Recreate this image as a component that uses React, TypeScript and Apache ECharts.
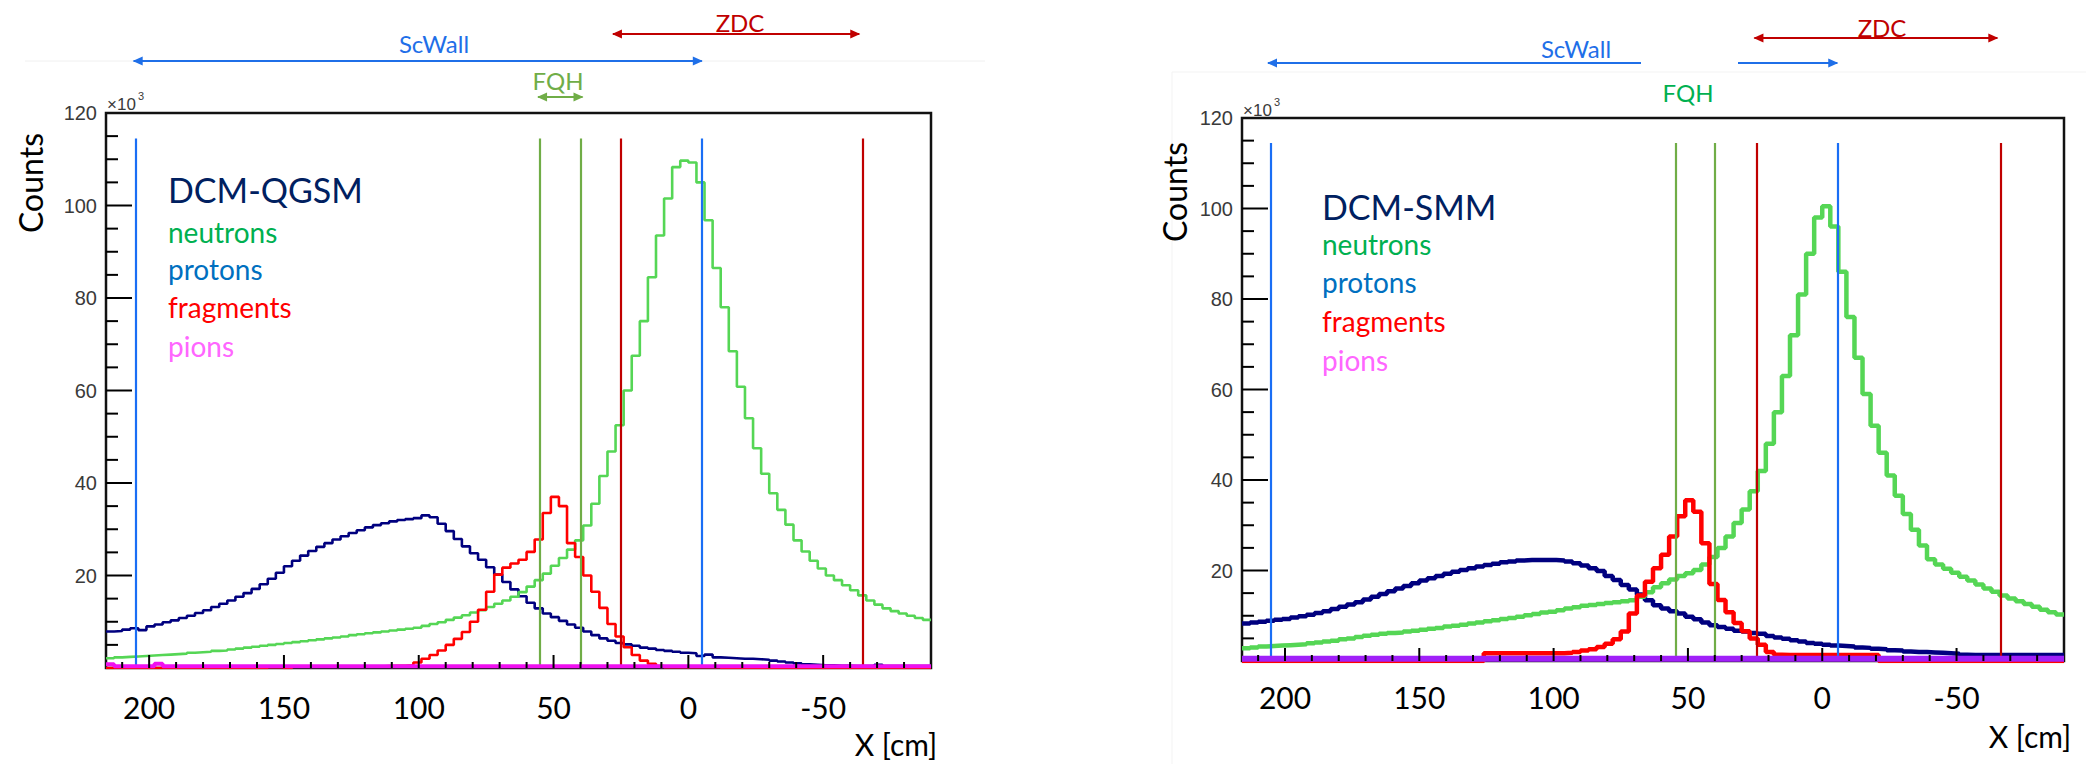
import React, { useEffect, useRef } from "react";
import * as echarts from "echarts";

// ---------- axis ----------
const X_MIN = -90;
const X_MAX = 216;
const Y_MAX = 120;
const BIN = 3; // bin width (cm); bins listed from X_MAX downwards
const majorTicks = [200, 150, 100, 50, 0, -50];
const minorTicks = [210, 190, 180, 170, 160, 140, 130, 120, 110, 90, 80, 70, 60, 40, 30, 20, 10, -10, -20, -30, -40, -60, -70, -80];
const yMajorTicks = [20, 40, 60, 80, 100];
const yMinorTicks = [5, 10, 15, 25, 30, 35, 45, 50, 55, 65, 70, 75, 85, 90, 95, 105, 110, 115];
const yTickLabels = [20, 40, 60, 80, 100, 120];

// ---------- DCM-QGSM (left) values, x10^3, bins from X=216 down to X=-90 ----------
const qgsmNeutrons = [
  2.1, 2.3, 2.4, 2.5, 2.6, 2.7, 2.8, 2.9, 3.0, 3.1,
  3.3, 3.4, 3.5, 3.7, 3.8, 4.0, 4.2, 4.4, 4.6, 4.8,
  5.0, 5.2, 5.4, 5.6, 5.8, 6.0, 6.2, 6.4, 6.6, 6.8,
  7.1, 7.3, 7.5, 7.7, 7.9, 8.1, 8.3, 8.5, 8.7, 9.1,
  9.5, 9.9, 10.4, 10.9, 11.4, 12.0, 12.5, 13.2, 13.9, 14.6,
  15.4, 16.4, 17.6, 19.0, 20.4, 22.1, 23.8, 25.6, 27.6, 30.8,
  35.5, 41.5, 46.8, 52.5, 60.0, 67.5, 75.0, 84.5, 93.5, 101.5,
  108.3, 109.7, 109.3, 105.0, 96.8, 86.5, 78.0, 68.5, 60.8, 54.0,
  47.5, 42.0, 37.8, 34.2, 31.0, 27.6, 25.2, 23.2, 21.5, 20.0,
  19.0, 17.9, 16.8, 15.7, 14.6, 13.7, 12.9, 12.3, 11.8, 11.3, 10.8, 10.4,
];
const qgsmProtons = [
  7.9, 8.0, 8.3, 8.6, 8.2, 9.0, 9.4, 9.9, 10.3, 10.8,
  11.3, 11.9, 12.5, 13.2, 13.9, 14.6, 15.4, 16.2, 17.1, 18.1,
  19.3, 20.6, 22.0, 23.2, 24.3, 25.3, 26.2, 27.0, 27.8, 28.5,
  29.2, 29.8, 30.4, 30.9, 31.3, 31.7, 32.0, 32.2, 32.4, 33.0,
  32.6, 31.2, 29.6, 27.9, 26.3, 24.8, 23.4, 21.8, 20.2, 18.6,
  17.0, 15.5, 14.1, 12.9, 11.8, 11.0, 10.2, 9.4, 8.7, 7.9,
  7.1, 6.4, 5.9, 5.4, 5.1, 4.8, 4.4, 4.2, 3.9, 3.7,
  3.5, 3.3, 3.2, 2.6, 2.9, 2.3, 2.2, 2.1, 2.0, 2.0,
  1.9, 1.8, 1.6, 1.4, 1.2, 1.0, 0.8, 0.7, 0.6, 0.6,
  0.5, 0.5, 0.4, 0.4, 0.4, 0.7, 0.4, 0.4, 0.4, 0.4, 0.4, 0.4,
];
const qgsmFragments = [
  0, 0, 0, 0, 0, 0, 0, 0, 0, 0,
  0, 0, 0, 0, 0, 0, 0, 0, 0, 0,
  0.2, 0.2, 0, 0.3, 0.3, 0.3, 0.3, 0.3, 0.3, 0.3,
  0.3, 0.3, 0.3, 0.3, 0.4, 0.5, 0.5, 0.6, 1.2, 2.0,
  2.8, 3.8, 5.0, 6.3, 7.8, 10.0, 12.6, 16.5, 20.2, 21.7,
  22.6, 23.4, 25.1, 27.8, 33.5, 37.0, 35.0, 27.0, 24.0, 20.0,
  16.5, 13.0, 9.5, 6.8, 4.5, 2.8, 1.6, 0.9, 0.4, 0.2,
  0.2, 0.2, 0.2, 0.2, 0.2, 0.2, 0, 0, 0, 0,
  0, 0, 0, 0, 0, 0, 0, 0, 0, 0,
  0, 0, 0, 0, 0, 0, 0, 0, 0, 0, 0, 0,
];
const qgsmPions = [
  0.8, 0.4, 0.4, 0.4, 0.4, 0.4, 0.9, 0.4, 0.4, 0.4,
  0.4, 0.4, 0.4, 0.4, 0.4, 0.4, 0.4, 0.4, 0.4, 0.4,
  0.4, 0.4, 0.4, 0.4, 0.4, 0.4, 0.4, 0.4, 0.4, 0.4,
  0.4, 0.4, 0.4, 0.4, 0.4, 0.4, 0.4, 0.4, 0.4, 0.4,
  0.4, 0.4, 0.4, 0.4, 0.4, 0.4, 0.4, 0.4, 0.4, 0.4,
  0.4, 0.4, 0.4, 0.4, 0.4, 0.4, 0.4, 0.4, 0.4, 0.4,
  0.4, 0.4, 0.4, 0.4, 0.4, 0.4, 0.4, 0.4, 0.4, 0.4,
  0.4, 0.4, 0.4, 0.4, 0.4, 0.4, 0.4, 0.4, 0.4, 0.4,
  0.4, 0.4, 0.4, 0.4, 0.4, 0.4, 0.4, 0.4, 0.4, 0.4,
  0.4, 0.4, 0.4, 0.4, 0.4, 0.4, 0.4, 0.4, 0.4, 0.4, 0.4, 0.4,
];

// ---------- DCM-SMM (right) ----------
const smmNeutrons = [
  2.8, 3.0, 3.2, 3.3, 3.4, 3.5, 3.6, 3.7, 3.9, 4.1,
  4.3, 4.5, 4.8, 5.0, 5.3, 5.6, 5.8, 6.0, 6.2, 6.3,
  6.5, 6.7, 6.9, 7.1, 7.3, 7.6, 7.8, 8.0, 8.3, 8.5,
  8.8, 9.0, 9.3, 9.5, 9.8, 10.1, 10.4, 10.7, 10.9, 11.2,
  11.6, 11.9, 12.2, 12.4, 12.6, 12.8, 13.0, 13.2, 13.4, 14.2,
  15.2, 16.3, 17.2, 18.0, 18.8, 19.4, 20.1, 21.3, 23.0, 25.0,
  27.5, 30.5, 33.5, 37.5, 42.0, 48.0, 55.0, 63.0, 72.0, 81.0,
  90.0, 98.0, 100.5, 96.0, 86.0, 76.0, 67.0, 59.0, 52.0, 46.0,
  41.0, 36.5, 32.5, 29.0, 25.5, 22.5, 21.3, 20.4, 19.5, 18.6,
  17.8, 16.9, 16.0, 15.3, 14.5, 13.8, 13.2, 12.6, 12.0, 11.3, 10.8, 10.3,
];
const smmProtons = [
  8.3, 8.5, 8.7, 8.9, 9.1, 9.3, 9.6, 9.9, 10.2, 10.6,
  11.0, 11.5, 12.0, 12.5, 13.0, 13.6, 14.2, 14.8, 15.4, 16.0,
  16.6, 17.2, 17.8, 18.3, 18.8, 19.3, 19.7, 20.1, 20.5, 20.9,
  21.2, 21.5, 21.8, 22.0, 22.2, 22.3, 22.3, 22.3, 22.3, 22.2,
  22.0, 21.6, 21.1, 20.5, 19.9, 18.8, 17.9, 16.8, 15.8, 14.7,
  13.4, 12.3, 11.6, 11.0, 10.5, 9.8, 9.2, 8.5, 7.9, 7.5,
  7.1, 6.7, 6.5, 6.2, 6.0, 5.5, 5.2, 4.9, 4.6, 4.3,
  4.0, 3.8, 3.6, 3.4, 3.3, 3.2, 3.0, 2.9, 2.7, 2.6,
  2.4, 2.3, 2.1, 2.0, 2.0, 1.9, 1.8, 1.7, 1.6, 1.4,
  1.3, 1.3, 1.3, 1.3, 1.3, 1.3, 1.3, 1.3, 1.3, 1.3, 1.3, 1.3,
];
const smmFragments = [
  0, 0, 0, 0, 0, 0, 0, 0, 0, 0,
  0, 0, 0, 0, 0, 0, 0, 0, 0, 0,
  0, 0, 0, 0, 0, 0, 0, 0, 0, 0,
  1.7, 1.7, 1.7, 1.7, 1.7, 1.7, 1.7, 1.7, 1.7, 1.7,
  1.8, 2.0, 2.3, 2.6, 3.1, 3.8, 4.8, 6.5, 10.5, 14.5,
  17.5, 20.5, 23.5, 27.5, 32.0, 35.5, 33.0, 26.0, 17.0, 13.5,
  10.8, 8.4, 6.6, 5.0, 3.6, 2.0, 1.4, 1.3, 1.3, 1.3,
  1.3, 1.3, 1.3, 1.3, 1.3, 1.3, 1.3, 1.3, 1.3, 0,
  0, 0, 0, 0, 0, 0, 0, 0, 0, 0,
  0, 0, 0, 0, 0, 0, 0, 0, 0, 0, 0, 0,
];
const smmPions = [
  0.5, 0.5, 0.5, 0.5, 0.5, 0.5, 0.5, 0.5, 0.5, 0.5,
  0.5, 0.5, 0.5, 0.5, 0.5, 0.5, 0.5, 0.5, 0.5, 0.5,
  0.5, 0.5, 0.5, 0.5, 0.5, 0.5, 0.5, 0.5, 0.5, 0.5,
  0.5, 0.5, 0.5, 0.5, 0.5, 0.5, 0.5, 0.5, 0.5, 0.5,
  0.5, 0.5, 0.5, 0.5, 0.5, 0.5, 0.5, 0.5, 0.5, 0.5,
  0.5, 0.5, 0.5, 0.5, 0.5, 0.5, 0.5, 0.5, 0.5, 0.5,
  0.5, 0.5, 0.5, 0.5, 0.5, 0.5, 0.5, 0.5, 0.5, 0.5,
  0.5, 0.5, 0.5, 0.5, 0.5, 0.5, 0.5, 0.5, 0.5, 0.5,
  0.5, 0.5, 0.5, 0.5, 0.5, 0.5, 0.5, 0.5, 0.5, 0.5,
  0.5, 0.5, 0.5, 0.5, 0.5, 0.5, 0.5, 0.5, 0.5, 0.5, 0.5, 0.5,
];

// detector boundary lines (X in cm): ScWall, FQH, FQH, ZDC, ScWall, ZDC
const qgsmMarkers = [205, 55, 40, 25, -5, -64.5];
const smmMarkers = [205.2, 54.7, 40.1, 24.5, -5.6, -66.3];
const markerTop = 114.5;
const markerColors = ["#1A6EF5", "#70AD47", "#70AD47", "#C00000", "#1A6EF5", "#C00000"];

const legendNames = ["neutrons", "protons", "fragments", "pions"];
const legendColors = ["#00B050", "#0070C0", "#FF0000", "#FF66FF"];

const FONT = "Lato, 'Open Sans', sans-serif";

function toSteps(vals: number[]) {
  const pts: number[][] = vals.map((v, k) => [X_MAX - BIN * k, v]);
  pts.push([X_MAX - BIN * vals.length, vals[vals.length - 1]]);
  return pts;
}

const panels = [
  {
    grid: { left: 106, top: 113, width: 825, height: 555 },
    neutrons: qgsmNeutrons, protons: qgsmProtons, fragments: qgsmFragments, pions: qgsmPions,
    lw: 2.6, pionW: 4, pionColor: "#F010F0", labelMargin: 24, markers: qgsmMarkers,
  },
  {
    grid: { left: 1242, top: 118, width: 822, height: 543 },
    neutrons: smmNeutrons, protons: smmProtons, fragments: smmFragments, pions: smmPions,
    lw: 4.5, pionW: 6, pionColor: "#A020F8", labelMargin: 21, markers: smmMarkers,
  },
];

function buildOption() {
  const grid: any[] = [];
  const xAxis: any[] = [];
  const yAxis: any[] = [];
  const series: any[] = [];
  panels.forEach((p, i) => {
    grid.push({ ...p.grid, show: true, borderColor: "#111", borderWidth: 2.5, backgroundColor: "transparent" });
    xAxis.push({
      type: "value", gridIndex: i, min: X_MIN, max: X_MAX, inverse: true, position: "bottom",
      splitLine: { show: false }, axisLine: { show: false, onZero: false }, axisTick: { show: false },
      axisLabel: { show: true, customValues: majorTicks, margin: p.labelMargin, fontSize: 30, fontFamily: FONT, color: "#000" },
    });
    yAxis.push({
      type: "value", gridIndex: i, min: 0, max: Y_MAX, interval: 20, position: "left",
      splitLine: { show: false },
      axisLine: { show: false, onZero: false },
      axisTick: { show: false },
      axisLabel: {
        margin: 9, fontSize: 20, fontFamily: "'Liberation Sans', Arial, sans-serif", color: "#3a3a3a",
        formatter: (v: number) => (yTickLabels.includes(v) ? String(v) : ""),
      },
    });
    const common = { type: "line", xAxisIndex: i, yAxisIndex: i, step: "end", symbol: "none", showSymbol: false, silent: true };
    series.push({ ...common, name: "protons" + i, data: toSteps(p.protons), lineStyle: { color: "#00007F", width: p.lw }, z: 3 });
    series.push({ ...common, name: "neutrons" + i, data: toSteps(p.neutrons), lineStyle: { color: "#55D655", width: p.lw }, z: 3 });
    series.push({ ...common, name: "fragments" + i, data: toSteps(p.fragments), lineStyle: { color: "#FF0000", width: p.lw }, z: 4 });
    series.push({
      ...common, name: "pions" + i, data: toSteps(p.pions), lineStyle: { color: p.pionColor, width: p.pionW }, z: 5,
      markLine: {
        silent: true, symbol: ["none", "none"], label: { show: false }, animation: false,
        data: p.markers.map((x, m) => [
          { coord: [x, 0], lineStyle: { color: markerColors[m], width: 2.2, type: "solid" } },
          { coord: [x, markerTop] },
        ]),
      },
    });
  });
  return { animation: false, backgroundColor: "#fff", grid, xAxis, yAxis, series };
}

function arrow(x1: number, x2: number, y: number, color: string, headL = true, headR = true) {
  const els: any[] = [
    { type: "line", shape: { x1, y1: y, x2, y2: y }, style: { stroke: color, lineWidth: 2 }, z: 10 },
  ];
  if (headL) els.push({ type: "polygon", shape: { points: [[x1 - 1, y], [x1 + 9, y - 4.5], [x1 + 9, y + 4.5]] }, style: { fill: color }, z: 10 });
  if (headR) els.push({ type: "polygon", shape: { points: [[x2 + 1, y], [x2 - 9, y - 4.5], [x2 - 9, y + 4.5]] }, style: { fill: color }, z: 10 });
  return els;
}

function seg(x1: number, y1: number, x2: number, y2: number) {
  return { type: "line", shape: { x1, y1, x2, y2 }, style: { stroke: "#000", lineWidth: 2 }, z: 20 };
}

function txt(text: string, x: number, y: number, font: string, fill: string, align = "center", vAlign = "middle", rotation = 0) {
  return { type: "text", x, y, rotation, z: 10, style: { text, font, fill, textAlign: align, textVerticalAlign: vAlign } };
}

export default function App() {
  const ref = useRef<HTMLDivElement>(null);
  useEffect(() => {
    const chart = echarts.init(ref.current!, null, { renderer: "svg" });
    chart.setOption(buildOption());
    const pxX = (axis: number, v: number) => chart.convertToPixel({ xAxisIndex: axis }, v) as number;
    const pxY = (axis: number, v: number) => chart.convertToPixel({ yAxisIndex: axis }, v) as number;
    const L = qgsmMarkers.map((x) => pxX(0, x));
    const R = smmMarkers.map((x) => pxX(1, x));
    const blue = "#1F6FE8";
    const red = "#C00000";
    const els: any[] = [
      // faint picture edges
      { type: "line", shape: { x1: 25, y1: 61, x2: 985, y2: 61 }, style: { stroke: "#F0F0F0", lineWidth: 1 }, z: 1 },
      { type: "line", shape: { x1: 1172, y1: 72, x2: 2086, y2: 72 }, style: { stroke: "#F3F3F3", lineWidth: 1 }, z: 1 },
      { type: "line", shape: { x1: 1172, y1: 72, x2: 1172, y2: 764 }, style: { stroke: "#F3F3F3", lineWidth: 1 }, z: 1 },
      // left annotations
      ...arrow(L[0] - 2, L[4], 61, blue),
      txt("ScWall", 434, 43, "24px " + FONT, blue),
      ...arrow(L[3] - 8, L[5] - 3, 34, red),
      txt("ZDC", 740, 22, "24px " + FONT, red),
      ...arrow(L[1] - 2, L[2] + 2, 97, "#70AD47"),
      txt("FQH", 558, 80, "24px " + FONT, "#70AD47"),
      // right annotations
      ...arrow(R[0] - 3, 1641, 63, blue, true, false),
      ...arrow(1738, R[4], 63, blue, false, true),
      txt("ScWall", 1576, 48, "24px " + FONT, blue),
      ...arrow(R[3] - 2, R[5] - 3, 38, red),
      txt("ZDC", 1882, 27, "24px " + FONT, red),
      txt("FQH", 1688, 92, "24px " + FONT, "#00B050"),
      // axis titles
      txt("Counts", 30, 183, "32px " + FONT, "#000", "center", "middle", Math.PI / 2),
      txt("Counts", 1174, 192, "32px " + FONT, "#000", "center", "middle", Math.PI / 2),
      txt("X [cm]", 896, 744, "30px " + FONT, "#000"),
      txt("X [cm]", 2030, 736, "30px " + FONT, "#000"),
      // x10^3
      txt("×10", 107, 104, "17px 'Liberation Sans', Arial", "#3a3a3a", "left", "middle"),
      txt("3", 138, 96, "11px 'Liberation Sans', Arial", "#3a3a3a", "left", "middle"),
      txt("×10", 1243, 110, "17px 'Liberation Sans', Arial", "#3a3a3a", "left", "middle"),
      txt("3", 1274, 102, "11px 'Liberation Sans', Arial", "#3a3a3a", "left", "middle"),
      // legends
      txt("DCM-QGSM", 168, 172, "34px " + FONT, "#002060", "left", "alphabetic"),
      txt("DCM-SMM", 1322, 189, "34px " + FONT, "#002060", "left", "alphabetic"),
    ];
    // ROOT-style tick marks inside the frame, placed through the axes' scales
    panels.forEach((_p, i) => {
      const x0 = pxX(i, X_MAX);
      const y0 = pxY(i, 0);
      yMajorTicks.forEach((v) => { const y = pxY(i, v); els.push(seg(x0, y, x0 + 26, y)); });
      yMinorTicks.forEach((v) => { const y = pxY(i, v); els.push(seg(x0, y, x0 + 12, y)); });
      majorTicks.forEach((v) => { const x = pxX(i, v); els.push(seg(x, y0, x, y0 - 13)); });
      minorTicks.forEach((v) => { const x = pxX(i, v); els.push(seg(x, y0, x, y0 - 6)); });
    });
    const lb = [218, 255, 293, 332];
    const rb = [230, 268, 307, 346];
    legendNames.forEach((n, i) => {
      els.push(txt(n, 168, lb[i], "28px " + FONT, legendColors[i], "left", "alphabetic"));
      els.push(txt(n, 1322, rb[i], "28px " + FONT, legendColors[i], "left", "alphabetic"));
    });
    chart.setOption({ graphic: { elements: els } });
    return () => chart.dispose();
  }, []);
  return <div ref={ref} style={{ position: "absolute", left: 0, top: 0, width: 2086, height: 764 }} />;
}
